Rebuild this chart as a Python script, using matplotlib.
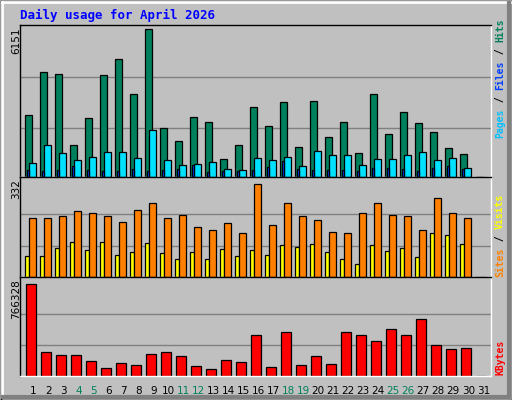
import numpy as np
import matplotlib.pyplot as plt
from matplotlib.lines import Line2D

days = np.arange(1, 32)
weekend = [4, 5, 11, 12, 18, 19, 25, 26]
hits = [2603, 4357, 4273, 1350, 2477, 4231, 4899, 3479, 6151, 2060, 1517, 2519, 2310, 765, 1350,
        2936, 2143, 3145, 1267, 3187, 1684, 2310, 1016, 3479, 1809, 2728, 2269, 1893, 1225, 974, 0]
files = [598, 1350, 1016, 724, 849, 1058, 1058, 807, 1976, 724, 515, 557, 640, 348, 306,
         807, 724, 849, 473, 1099, 932, 932, 515, 765, 765, 932, 1058, 724, 807, 390, 0]
pages = [306, 264, 306, 473, 306, 264, 264, 348, 264, 306, 348, 515, 223, 264, 264,
         306, 432, 682, 348, 306, 306, 306, 264, 390, 390, 348, 264, 390, 473, 348, 0]
visits = [210, 210, 217, 235, 231, 217, 199, 239, 264, 213, 221, 181, 167, 195, 156,
          332, 188, 264, 217, 206, 163, 159, 231, 264, 221, 217, 167, 282, 228, 210, 0]
sites = [77, 77, 105, 127, 98, 127, 80, 91, 123, 87, 66, 91, 66, 102, 77,
         98, 80, 113, 109, 120, 91, 66, 48, 116, 95, 105, 73, 156, 152, 120, 0]
kbytes = [766328, 204166, 178995, 178995, 128653, 69920, 111872, 95091, 187386, 204166,
          170605, 86701, 61530, 137043, 120262, 346803, 78310, 371974, 95091, 170605,
          103482, 371974, 346803, 296461, 388755, 346803, 472659, 262899, 229338, 237728, 0]

W, H = 512, 400
BG = '#C0C0C0'
fig = plt.figure(figsize=(W / 100, H / 100), dpi=100, facecolor=BG)
mono = 'DejaVu Sans Mono'

# bevel frame
def fl(x0, y0, x1, y1, c, lw=1.0):
    fig.add_artist(Line2D([x0 / W, x1 / W], [1 - y0 / H, 1 - y1 / H], color=c, lw=lw))
fl(0.5, 0.5, 511.5, 0.5, 'black'); fl(0.5, 0.5, 0.5, 399.5, 'black')
fl(511.5, 0.5, 511.5, 399.5, 'black'); fl(0.5, 399.5, 511.5, 399.5, 'black')
fl(2, 2, 510, 2, 'white', 2); fl(2, 2, 2, 397, 'white', 2)
fl(509, 3, 509, 397, '#808080', 3); fl(3, 397, 509, 397, '#808080', 3)

fig.text(20 / W, 1 - 15 / H, 'Daily usage for April 2026', color='#0000FF', fontsize=9,
         fontweight='bold', family=mono, va='center')

left, right = 20, 491
def mkax(top, bot):
    ax = fig.add_axes([left / W, 1 - bot / H, (right - left) / W, (bot - top) / H])
    ax.set_facecolor(BG)
    ax.set_xlim(0, right - left)
    ax.set_xticks([]); ax.set_yticks([])
    for s in ax.spines.values():
        s.set_linewidth(1)
    ax.spines['left'].set_color('black'); ax.spines['top'].set_color('black')
    ax.spines['right'].set_color('white'); ax.spines['bottom'].set_color('white')
    return ax

x0 = 5.3 + 15 * (days - 1)
ec = dict(edgecolor='black', linewidth=0.9, align='edge')

def grid(ax, m):
    for f in (0.335, 0.68):
        ax.axhline(m * f, color='#808080', lw=1, zorder=0)

# top panel
ax1 = mkax(25, 177)
m = max(hits)
ax1.set_ylim(0, m * 1.03)
grid(ax1, m)
ax1.bar(x0, hits, 7, color='#00805C', zorder=2, **ec)
ax1.bar(x0 + 4, files, 7, color='#00E0FF', zorder=3, **ec)
ax1.bar(x0 + 1.5, pages, 2.5, color='#0040FF', zorder=4, **ec)

# middle panel
ax2 = mkax(177, 277)
m2 = max(visits)
ax2.set_ylim(0, m2 * 1.08)
grid(ax2, m2)
ax2.bar(x0, sites, 4, color='#FFFF00', zorder=2, **ec)
ax2.bar(x0 + 4, visits, 7, color='#FF8000', zorder=3, **ec)

# bottom panel
ax3 = mkax(277, 376)
m3 = max(kbytes)
ax3.set_ylim(0, m3 * 1.08)
grid(ax3, m3)
ax3.bar(x0 + 1, kbytes, 10, color='#FF0000', zorder=2, **ec)

for i, d in enumerate(days):
    ax3.text(x0[i] + 8, -0.1, str(d), transform=ax3.get_xaxis_transform(), ha='center',
             va='top', fontsize=7.5, color='#00805C' if d in weekend else 'black')

for top, val in ((25, hits), (177, visits), (277, kbytes)):
    fig.text(16 / W, 1 - (top + 2) / H, str(max(val)), rotation=90, ha='center', va='top',
             fontsize=7.5, color='black')

def vlabel(ybot, parts):
    y = ybot
    for txt, c in parts:
        fig.text(500 / W, 1 - y / H, txt, rotation=90, ha='center', va='bottom',
                 fontsize=7, family=mono, fontweight='bold', color=c)
        y -= len(txt) * 6.0

vlabel(138, [('Pages', '#00C0FF'), (' / ', 'black'), ('Files', '#0040FF'), (' / ', 'black'), ('Hits', '#00805C')])
vlabel(277, [('Sites', '#FF8000'), (' / ', 'black'), ('Visits', '#FFFF00')])
vlabel(375, [('KBytes', '#FF0000')])

fig.savefig('out.png', dpi=100, facecolor=BG)
